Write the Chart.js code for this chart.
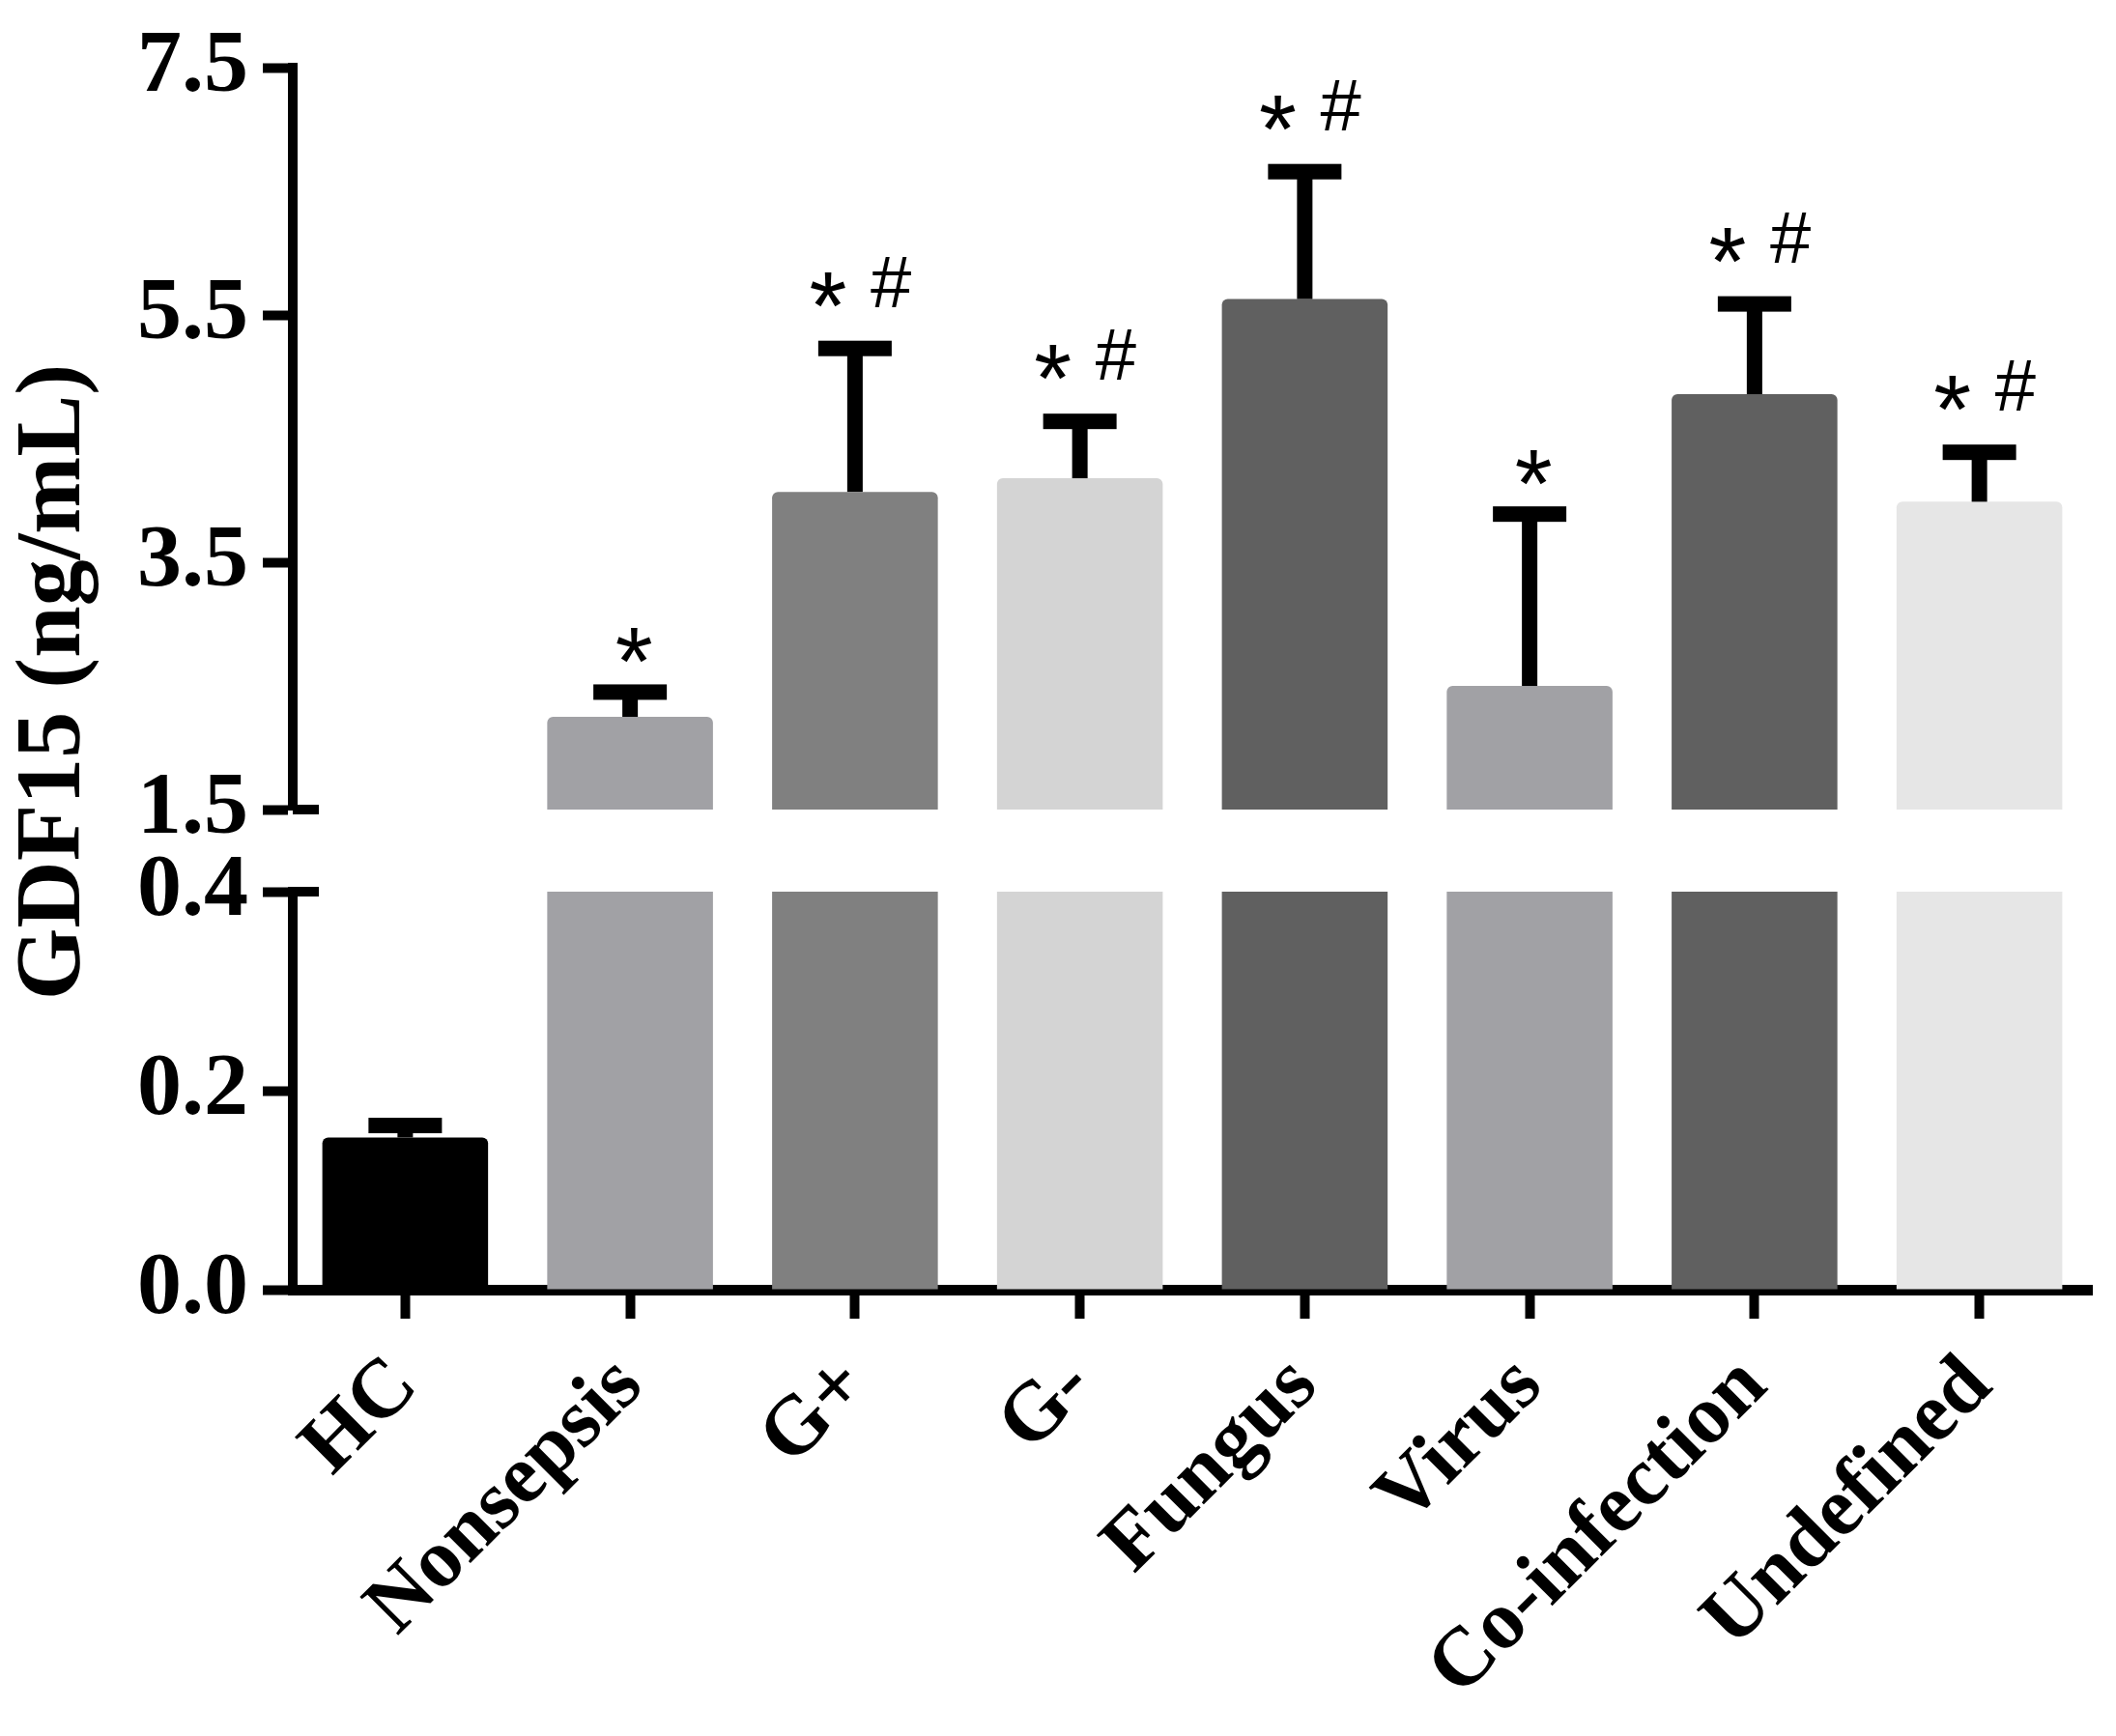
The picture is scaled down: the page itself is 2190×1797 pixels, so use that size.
<!DOCTYPE html>
<html>
<head>
<meta charset="utf-8">
<script src="https://cdn.jsdelivr.net/npm/chart.js@4.4.1/dist/chart.umd.min.js"></script>
<style>
  html, body { margin: 0; padding: 0; background: #ffffff; }
  #wrap { position: relative; width: 2190px; height: 1797px; }
  #wrap canvas { position: absolute; left: 0; top: 0; }
</style>
</head>
<body>
<div id="wrap">
  <canvas id="upper" width="2190" height="1797"></canvas>
  <canvas id="lower" width="2190" height="1797"></canvas>
</div>
<script>
// ---- data ----
const categories = ['HC', 'Nonsepsis', 'G+', 'G-', 'Fungus', 'Virus', 'Co-infection', 'Undefined'];
const means = [0.153, 2.25, 4.07, 4.18, 5.63, 2.50, 4.86, 3.99];
const errors = [0.012, 0.20, 1.16, 0.46, 1.03, 1.39, 0.73, 0.40];
const barColors = ['#000000', '#a1a1a5', '#808080', '#d4d4d4', '#606060', '#a1a1a5', '#606060', '#e6e6e6'];
const significance = ['', '*', '* #', '* #', '* #', '*', '* #', '* #'];
const upperTicks = [1.5, 3.5, 5.5, 7.5];
const lowerTicks = [0, 0.2, 0.4];
const yTitle = 'GDF15 (ng/mL)';

// ---- layout / style ----
const W = 2190, H = 1797;
const AXIS_LEFT = 303;
const UPPER_TOP = 67, UPPER_BOTTOM = 838;
const LOWER_TOP = 923, LOWER_BOTTOM = 1335;
const RIGHT_PAD = 25;
const SERIF = "'Liberation Serif', 'Times New Roman', serif";
const SANS = "'Liberation Sans', Arial, sans-serif";

const tickFont = { family: SERIF, size: 92, weight: 'bold' };

function yScale(minV, maxV, tickVals) {
  return {
    type: 'linear',
    min: minV,
    max: maxV,
    afterBuildTicks: (s) => { s.ticks = tickVals.map(v => ({ value: v })); },
    afterFit: (s) => { s.width = AXIS_LEFT; },
    ticks: {
      color: '#000',
      font: tickFont,
      padding: 15,
      callback: (v) => Number(v).toFixed(1)
    },
    grid: {
      display: true,
      drawOnChartArea: false,
      drawTicks: true,
      tickLength: 31,
      tickWidth: 10,
      tickColor: '#000'
    },
    border: { display: true, width: 10, color: '#000' }
  };
}

const errorBarPlugin = {
  id: 'errorBars',
  afterDatasetsDraw(chart) {
    const ctx = chart.ctx;
    const meta = chart.getDatasetMeta(0);
    const y = chart.scales.y;
    const a = chart.chartArea;
    ctx.save();
    ctx.beginPath();
    ctx.rect(a.left, a.top - 10, a.right - a.left, a.bottom - a.top + 10);
    ctx.clip();
    ctx.fillStyle = '#000';
    meta.data.forEach((bar, i) => {
      const yv = y.getPixelForValue(means[i]);
      const ye = y.getPixelForValue(means[i] + errors[i]);
      if (ye > a.bottom + 20 || yv < a.top - 20) return;
      ctx.fillRect(bar.x - 8, ye, 16, yv - ye);
      ctx.fillRect(bar.x - 38, ye - 8, 76, 16);
    });
    ctx.restore();
  }
};

function breakStub(which) {
  return {
    id: 'breakStub_' + which,
    afterDraw(chart) {
      const y = chart.scales.y;
      const py = y.getPixelForValue(which === 'min' ? y.min : y.max);
      const ctx = chart.ctx;
      ctx.save();
      ctx.fillStyle = '#000';
      ctx.fillRect(chart.chartArea.left, py - 5, 27, 10);
      ctx.restore();
    }
  };
}

const annotationPlugin = {
  id: 'sigMarks',
  afterDatasetsDraw(chart) {
    const ctx = chart.ctx;
    const meta = chart.getDatasetMeta(0);
    const y = chart.scales.y;
    ctx.save();
    ctx.fillStyle = '#000';
    ctx.textAlign = 'left';
    ctx.textBaseline = 'alphabetic';
    meta.data.forEach((bar, i) => {
      const label = significance[i];
      if (!label) return;
      const capY = y.getPixelForValue(means[i] + errors[i]);
      const tokens = label.split(' ');
      const bottom = capY - (tokens.length > 1 ? 43 : 30);
      const offsets = tokens.length > 1 ? [-28, 37] : [4];
      tokens.forEach((t, k) => {
        ctx.font = (t === '*' ? '100px ' : '76px ') + SANS;
        const m = ctx.measureText(t);
        const inkW = m.actualBoundingBoxLeft + m.actualBoundingBoxRight;
        const cx = bar.x + offsets[k];
        const x = cx - inkW / 2 + m.actualBoundingBoxLeft;
        ctx.fillText(t, x, bottom - m.actualBoundingBoxDescent);
      });
    });
    ctx.restore();
  }
};

const yTitlePlugin = {
  id: 'yTitle',
  afterDraw(chart) {
    const ctx = chart.ctx;
    ctx.save();
    ctx.translate(82, (UPPER_TOP + LOWER_BOTTOM) / 2);
    ctx.rotate(-Math.PI / 2);
    ctx.font = 'bold 96px ' + SERIF;
    ctx.fillStyle = '#000';
    ctx.textAlign = 'center';
    ctx.textBaseline = 'alphabetic';
    ctx.fillText(yTitle, -5, 0);
    ctx.restore();
  }
};

function dataset() {
  return {
    data: means,
    backgroundColor: barColors,
    borderWidth: 0,
    borderRadius: 6,
    borderSkipped: 'start',
    categoryPercentage: 1.0,
    barPercentage: 0.737
  };
}

// upper chart (1.5 - 7.5)
new Chart(document.getElementById('upper'), {
  type: 'bar',
  data: { labels: categories, datasets: [dataset()] },
  options: {
    responsive: false,
    devicePixelRatio: 1,
    animation: false,
    layout: { padding: { left: 0, right: RIGHT_PAD, top: UPPER_TOP, bottom: H - UPPER_BOTTOM } },
    plugins: { legend: { display: false }, tooltip: { enabled: false } },
    scales: {
      x: { type: 'category', display: false, offset: true },
      y: yScale(1.5, 7.5, upperTicks)
    }
  },
  plugins: [errorBarPlugin, annotationPlugin, breakStub('min')]
});

// lower chart (0 - 0.4)
new Chart(document.getElementById('lower'), {
  type: 'bar',
  data: { labels: categories, datasets: [dataset()] },
  options: {
    responsive: false,
    devicePixelRatio: 1,
    animation: false,
    layout: { padding: { left: 0, right: RIGHT_PAD, top: LOWER_TOP, bottom: 0 } },
    plugins: { legend: { display: false }, tooltip: { enabled: false } },
    scales: {
      x: {
        type: 'category',
        offset: true,
        afterFit: (s) => { s.height = H - LOWER_BOTTOM; },
        ticks: {
          color: '#000',
          font: { family: SERIF, size: 86, weight: 'bold' },
          minRotation: 45,
          maxRotation: 45,
          autoSkip: false,
          padding: 20
        },
        grid: {
          display: true,
          offset: false,
          drawOnChartArea: false,
          drawTicks: true,
          tickLength: 30,
          tickWidth: 10,
          tickColor: '#000'
        },
        border: { display: true, width: 11, color: '#000' }
      },
      y: yScale(0, 0.4, lowerTicks)
    }
  },
  plugins: [errorBarPlugin, breakStub('max'), yTitlePlugin]
});
</script>
</body>
</html>
